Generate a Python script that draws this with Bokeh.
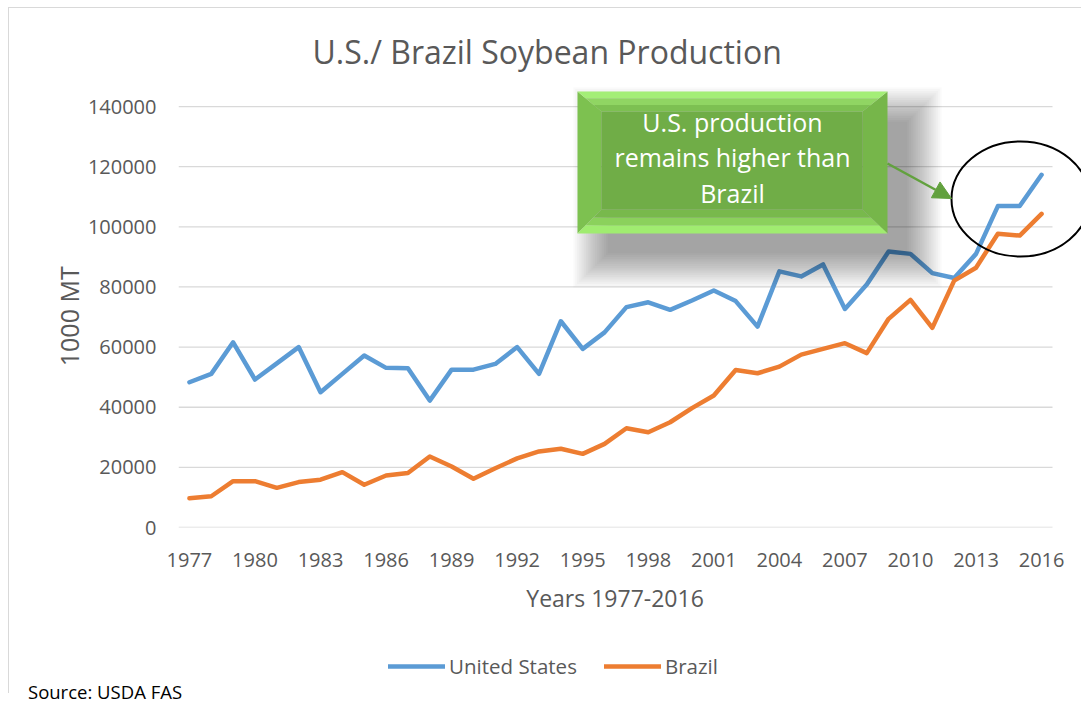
from bokeh.plotting import figure
from bokeh.models import (FixedTicker, NumeralTickFormatter, Legend, LegendItem,
                          Label, Arrow, NormalHead, Range1d, Div)
from bokeh.layouts import column
from bokeh.embed import file_html
from bokeh.resources import INLINE

# ---------------- data ----------------
years = list(range(1977, 2017))
us_production = [48300, 51100, 61600, 49200, 54600, 60000, 45000, 51100, 57200, 53100,
                 53000, 42200, 52500, 52500, 54400, 60000, 51100, 68600, 59400, 64900,
                 73300, 74900, 72400, 75500, 78800, 75300, 66800, 85200, 83500, 87500,
                 72700, 80800, 91800, 91000, 84600, 83000, 91000, 106900, 106900, 117300]
brazil_production = [9700, 10400, 15400, 15400, 13200, 15100, 15900, 18400, 14200, 17300,
                     18100, 23600, 20300, 16200, 19700, 23000, 25300, 26200, 24500, 27800,
                     33000, 31700, 35000, 39700, 43900, 52400, 51300, 53500, 57500, 59400,
                     61300, 58000, 69400, 75700, 66400, 82100, 86400, 97700, 97100, 104300]
y_ticks = [0, 20000, 40000, 60000, 80000, 100000, 120000, 140000]
x_ticks = years[::3]
series_names = ["United States", "Brazil"]
title_text = "U.S./ Brazil Soybean Production"
x_title = "Years 1977-2016"
y_title = "1000 MT"
callout_text = "U.S. production\nremains higher than\nBrazil"
source_text = "Source: USDA FAS"

# ---------------- layout ----------------
W, H1, H2, H3 = 1081, 643, 37, 23
FL, FR, FT, FB = 178, 1081, 85, 527          # frame edges in canvas px
X0 = years[0] - 0.5
SX = (1052 - FL) / len(years)                # px per year
Y_END = 147000
SY = (FB - FT) / Y_END                       # px per unit
NB = "\u00a0"


def px(xp, yp):
    """canvas pixel -> data coordinates (annotation placement only)"""
    return X0 + (xp - FL) / SX, (FB - yp) / SY


GREY = "#595959"
FONT = "Open Sans"
US_C, BR_C = "#5B9BD5", "#ED7D31"
BORDER = "#D9D9D9"
LINE_KW = dict(line_width=4.5, line_join="round", line_cap="round")

p = figure(width=W, height=H1, output_backend="svg", toolbar_location=None,
           x_range=Range1d(X0, X0 + (FR - FL) / SX), y_range=Range1d(0, Y_END),
           min_border_left=FL, min_border_right=0,
           min_border_top=FT, min_border_bottom=H1 - FB,
           background_fill_color="white", border_fill_alpha=0)
p.outline_line_color = None
p.xgrid.visible = False
p.ygrid.visible = False

# title
p.title.text = title_text
p.title.text_font = FONT
p.title.text_font_size = "32px"
p.title.text_font_style = "normal"
p.title.text_color = GREY
p.title.align = "left"
p.title.offset = 312 - FL
p.title.standoff = 26

# axes
for ax in (p.xaxis[0], p.yaxis[0]):
    ax.axis_line_color = None
    ax.major_tick_line_color = None
    ax.minor_tick_line_color = None
    ax.major_tick_out = 0
    ax.major_label_text_font = FONT
    ax.major_label_text_font_size = "20px"
    ax.major_label_text_color = GREY
    ax.axis_label_text_font = FONT
    ax.axis_label_text_font_style = "normal"
    ax.axis_label_text_color = GREY

p.xaxis.ticker = FixedTicker(ticks=x_ticks)
p.xaxis.axis_label = x_title + NB * 5          # centred over the category span
p.xaxis.axis_label_text_font_size = "23px"
p.xaxis.major_label_standoff = 25
p.xaxis.axis_label_standoff = 12

p.yaxis.ticker = FixedTicker(ticks=y_ticks)
p.yaxis.formatter = NumeralTickFormatter(format="0")
p.yaxis.axis_label = y_title + NB * 3
p.yaxis.axis_label_text_font_size = "25px"
p.yaxis.major_label_standoff = 22
p.yaxis.axis_label_standoff = -1

# gridlines spanning the category extent only
p.segment(x0=[years[0] - 0.5] * len(y_ticks), x1=[years[-1] + 0.5] * len(y_ticks),
          y0=y_ticks, y1=y_ticks, line_color=BORDER, line_width=1.3)

p.line(years, us_production, line_color=US_C, **LINE_KW)
p.line(years, brazil_production, line_color=BR_C, **LINE_KW)

# ---------------- callout box ----------------
L, R, T, B = 577, 887, 91, 233
l, r, t, b = 601, 862, 111, 209

# soft shadow (stacked translucent layers)
for k in range(20):
    e = k * 1.8
    xs, ys = zip(*[px(L + 30 - e, T + 30 - e), px(R + 20 + e, T + 30 - e),
                   px(R + 20 + e, B + 20 + e), px(L + 30 - e, B + 20 + e)])
    p.patch(list(xs), list(ys), fill_color="black", fill_alpha=0.018, line_color=None)


def lerp(a, b_, f):
    return (a[0] + (b_[0] - a[0]) * f, a[1] + (b_[1] - a[1]) * f)


def poly(pts):
    xs, ys = zip(*[px(a, c) for a, c in pts])
    return list(xs), list(ys)


# side bevels and face
for pts, col in [([(L, T), (l, t), (l, b), (L, B)], "#7DC150"),
                 ([(R, T), (r, t), (r, b), (R, B)], "#76B64A"),
                 ([(l, t), (r, t), (r, b), (l, b)], "#70AD47")]:
    xs, ys = poly(pts)
    p.patch(xs, ys, fill_color=col, line_color=None)

# top / bottom bevels as gradient bands (outer edge -> inner edge)
bands = [(0.0, 0.34), (0.34, 0.67), (0.67, 1.0)]
for (o1, o2, i1, i2), cols in [(((L, T), (R, T), (l, t), (r, t)), ["#A4EE77", "#90D563", "#7DC052"]),
                               (((L, B), (R, B), (l, b), (r, b)), ["#A0EC70", "#8BD15C", "#78B94C"])]:
    for (f0, f1), col in zip(bands, cols):
        pts = [lerp(o1, i1, f0), lerp(o2, i2, f0), lerp(o2, i2, f1), lerp(o1, i1, f1)]
        xs, ys = poly(pts)
        p.patch(xs, ys, fill_color=col, line_color=None)

cx, cy = px((L + R) / 2, 157)
p.add_layout(Label(x=cx, y=cy, text=callout_text, text_align="center",
                   text_baseline="middle", text_color="white", text_font=FONT,
                   text_font_size="25px", text_line_height=1.05))

# arrow
ax0, ay0 = px(887, 163)
ax1, ay1 = px(951, 198)
green = "#62A13E"
p.add_layout(Arrow(end=NormalHead(size=18, fill_color=green, line_color=green),
                   x_start=ax0, y_start=ay0, x_end=ax1, y_end=ay1,
                   line_color=green, line_width=2.5))

# ellipse
ex, ey = px(1020, 198.5)
p.ellipse(x=[ex], y=[ey], width=138, height=115, width_units="screen",
          height_units="screen", fill_color=None, line_color="black", line_width=2)

# ---------------- legend strip ----------------
q = figure(width=W, height=H2, output_backend="svg", toolbar_location=None,
           x_range=Range1d(0, 1), y_range=Range1d(0, 1), min_border=0,
           background_fill_alpha=0, border_fill_alpha=0)
q.outline_line_color = None
q.axis.visible = False
q.grid.visible = False
# same series, lying outside this strip's ranges: only their legend swatches show
k_us = q.line(years, us_production, line_color=US_C, **LINE_KW)
k_br = q.line(years, brazil_production, line_color=BR_C, **LINE_KW)

legend = Legend(items=[LegendItem(label=series_names[0], renderers=[k_us]),
                       LegendItem(label=series_names[1], renderers=[k_br])],
                orientation="horizontal", location=(388 - FL, 0),
                glyph_width=57, glyph_height=20, label_standoff=4, spacing=27,
                label_text_font=FONT, label_text_font_size="20.5px",
                label_text_color=GREY, border_line_color=None,
                background_fill_alpha=0, padding=0, margin=0)
q.add_layout(legend, "center")

source = Div(text=source_text, width=300, height=H3, margin=(0, 0, 0, 28),
             styles={"font-family": FONT, "font-size": "18.5px", "color": "black",
                     "line-height": f"{H3}px"})

# light chart-area border (left and top edges), painted behind the transparent canvases
frame_css = {
    "background-color": "white",
    "background-image": f"linear-gradient({BORDER},{BORDER}), linear-gradient({BORDER},{BORDER})",
    "background-size": "1px 686px, 100% 1px",
    "background-position": "8px 7px, 8px 7px",
    "background-repeat": "no-repeat",
}
page = column(p, q, source, spacing=0, styles=frame_css)

open("out.html", "w").write(file_html(page, INLINE))
